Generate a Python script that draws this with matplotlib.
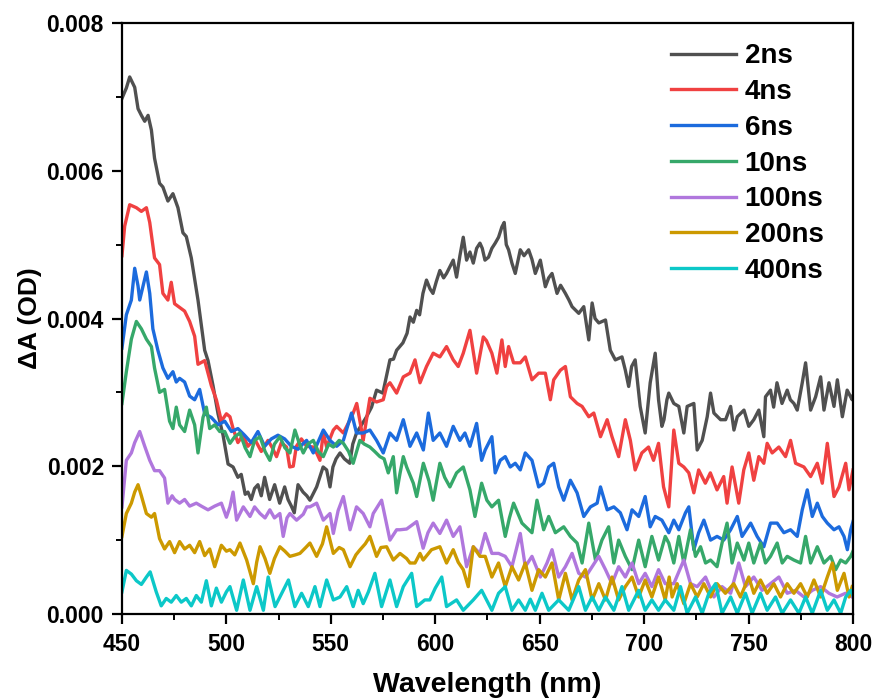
import matplotlib.pyplot as plt

plt.rcParams['font.family'] = ['Liberation Sans', 'DejaVu Sans']
plt.rcParams['font.weight'] = 'bold'

# transient absorption spectra, dA in mOD (x1e-3 OD)
wl_2ns = [450.0, 452.1, 453.7, 456.1, 457.7, 459.3, 460.9, 462.5, 464.1, 465.6, 468.0, 469.6, 472.0, 474.4,
          476.8, 479.2, 480.8, 483.2, 486.4, 489.6, 491.2, 493.6, 496.0, 498.4, 500.8, 503.2, 505.5, 507.1,
          509.0, 510.3, 511.9, 513.5, 515.1, 516.7, 518.3, 520.7, 523.1, 525.5, 527.9, 529.5, 531.1, 532.5,
          534.3, 536.7, 538.5, 540.0, 543.2, 546.3, 548.0, 549.6, 551.0, 552.5, 554.4, 556.5, 559.1, 560.5,
          562.3, 564.5, 567.1, 569.5, 571.9, 574.9, 576.5, 578.3, 580.0, 581.5, 584.5, 586.5, 587.9, 589.5,
          591.1, 592.5, 594.1, 595.8, 597.5, 598.9, 600.5, 602.2, 604.0, 605.4, 607.0, 608.6, 610.2, 611.8,
          613.4, 615.0, 616.6, 618.2, 619.8, 621.4, 622.5, 623.8, 625.5, 627.1, 628.7, 630.3, 631.9, 633.0,
          634.0, 635.1, 636.7, 638.3, 640.7, 642.5, 644.7, 646.3, 647.9, 650.3, 652.7, 654.3, 655.9, 658.3,
          660.0, 662.3, 664.0, 665.5, 668.7, 671.1, 673.5, 675.1, 676.5, 678.3, 681.5, 683.8, 686.2, 689.4,
          691.0, 692.6, 694.0, 695.7, 698.1, 700.5, 702.9, 705.3, 706.9, 708.5, 709.5, 710.9, 711.8, 714.2,
          716.6, 719.0, 720.6, 723.8, 725.4, 727.8, 730.2, 731.8, 733.4, 736.6, 739.0, 741.4, 743.0, 744.6,
          747.8, 750.1, 752.5, 754.9, 757.3, 758.1, 760.5, 762.0, 763.6, 766.0, 768.5, 770.0, 771.7, 773.3,
          775.7, 777.3, 779.7, 782.1, 784.5, 786.1, 788.5, 790.9, 792.5, 794.9, 797.2, 799.6, 800.0]
od_2ns = [6.98, 7.12, 7.27, 7.13, 6.84, 6.75, 6.67, 6.75, 6.55, 6.17, 5.83, 5.78, 5.59, 5.69,
          5.50, 5.16, 5.11, 4.82, 4.25, 3.57, 3.43, 3.09, 2.71, 2.42, 2.03, 1.99, 1.85, 1.89,
          1.62, 1.65, 1.55, 1.70, 1.75, 1.60, 1.85, 1.55, 1.75, 1.50, 1.72, 1.55, 1.46, 1.37,
          1.75, 1.65, 1.60, 1.54, 1.72, 1.99, 1.95, 1.72, 1.99, 2.10, 2.18, 2.10, 2.04, 2.30,
          2.45, 2.55, 2.67, 2.80, 3.03, 2.99, 3.20, 3.44, 3.45, 3.57, 3.67, 3.80, 4.02, 3.95,
          4.11, 4.05, 4.34, 4.52, 4.40, 4.34, 4.50, 4.65, 4.55, 4.61, 4.70, 4.79, 4.56, 4.85,
          5.10, 4.79, 4.90, 4.75, 4.95, 5.02, 4.95, 4.79, 4.83, 4.95, 5.02, 5.10, 5.24, 5.30,
          5.00, 4.93, 4.75, 4.61, 4.93, 4.85, 4.93, 4.80, 4.61, 4.79, 4.43, 4.55, 4.61, 4.34,
          4.45, 4.34, 4.25, 4.16, 4.07, 4.16, 3.71, 4.21, 4.00, 3.94, 3.98, 3.57, 3.44, 3.48,
          3.30, 3.08, 3.35, 3.44, 2.81, 2.45, 3.13, 3.53, 2.90, 2.54, 2.63, 2.90, 2.99, 2.85,
          2.81, 2.45, 2.81, 2.85, 2.22, 2.35, 2.67, 2.99, 2.72, 2.63, 2.63, 2.81, 2.49, 2.67,
          2.76, 2.54, 2.63, 2.76, 2.40, 2.94, 3.03, 2.80, 3.13, 2.85, 3.03, 2.90, 2.85, 2.76,
          3.13, 3.40, 2.76, 2.94, 3.21, 2.76, 3.13, 2.81, 3.17, 2.67, 3.03, 2.90, 2.95]

wl_4ns = [450.0, 451.3, 453.7, 456.9, 459.3, 461.7, 463.3, 465.6, 468.0, 469.6, 472.0, 473.6, 475.2, 477.6,
          480.0, 482.4, 484.8, 486.4, 489.6, 492.8, 495.2, 497.6, 500.0, 501.7, 503.2, 505.5, 507.9, 510.3,
          513.5, 516.7, 519.9, 522.0, 524.0, 526.3, 528.8, 530.3, 532.0, 533.5, 535.9, 538.4, 541.6, 543.2,
          544.8, 546.4, 548.0, 551.2, 552.8, 556.0, 559.2, 560.7, 562.4, 564.7, 565.5, 568.7, 571.9, 575.1,
          576.7, 578.3, 581.5, 584.7, 587.9, 590.3, 592.7, 595.8, 599.0, 602.2, 605.4, 608.6, 611.0, 613.4,
          616.6, 619.8, 623.0, 624.5, 627.1, 629.5, 631.9, 633.5, 635.1, 637.5, 640.7, 643.1, 646.3, 649.5,
          652.7, 655.1, 656.7, 659.9, 662.3, 664.7, 667.9, 670.3, 673.5, 675.9, 679.1, 682.3, 684.6, 687.8,
          691.0, 693.4, 695.7, 698.9, 702.1, 704.5, 706.9, 709.3, 711.8, 714.2, 716.6, 719.0, 721.4, 723.8,
          726.1, 729.3, 731.7, 734.9, 738.1, 739.7, 742.1, 745.3, 747.7, 750.1, 752.5, 754.9, 757.3, 758.9,
          761.3, 764.5, 767.7, 770.1, 772.5, 776.5, 779.7, 782.9, 785.3, 787.7, 790.9, 793.3, 796.5, 798.1,
          800.0]
od_4ns = [4.85, 5.25, 5.54, 5.50, 5.45, 5.50, 5.30, 4.82, 4.73, 4.34, 4.25, 4.49, 4.20, 4.15,
          4.10, 3.96, 3.76, 3.38, 3.43, 3.09, 2.90, 2.61, 2.71, 2.67, 2.51, 2.32, 2.42, 2.27,
          2.37, 2.20, 2.35, 2.25, 2.13, 2.32, 2.26, 1.99, 2.00, 2.27, 2.37, 2.27, 2.26, 2.18,
          2.08, 2.45, 2.26, 2.49, 2.54, 2.45, 2.63, 2.72, 2.85, 2.49, 2.35, 2.92, 2.87, 2.90,
          3.08, 3.13, 2.99, 3.21, 3.26, 3.44, 3.13, 3.35, 3.53, 3.48, 3.62, 3.44, 3.35, 3.53,
          3.84, 3.26, 3.75, 3.70, 3.53, 3.26, 3.71, 3.35, 3.62, 3.40, 3.40, 3.48, 3.17, 3.26,
          3.26, 2.90, 3.17, 3.30, 3.35, 2.94, 2.85, 2.81, 2.67, 2.72, 2.40, 2.63, 2.40, 2.13,
          2.63, 2.35, 1.95, 2.18, 2.26, 2.08, 2.31, 1.72, 1.45, 2.49, 2.04, 1.99, 1.91, 1.64,
          1.95, 1.77, 1.91, 1.68, 1.86, 1.50, 1.99, 1.50, 1.95, 2.18, 1.81, 2.13, 2.04, 2.31,
          2.18, 2.26, 2.13, 2.35, 2.04, 1.99, 1.86, 2.04, 1.77, 2.31, 1.59, 1.72, 2.04, 1.68,
          1.95]

wl_6ns = [450.0, 452.1, 454.5, 456.1, 457.7, 458.5, 460.1, 461.7, 463.3, 464.8, 467.2, 469.6, 472.0, 474.4,
          476.0, 477.6, 480.0, 482.4, 484.8, 487.2, 489.6, 492.8, 496.0, 499.2, 502.4, 505.5, 508.7, 511.9,
          515.1, 518.3, 521.5, 524.7, 527.9, 531.1, 534.3, 536.5, 538.4, 541.6, 546.4, 549.6, 552.8, 556.0,
          559.9, 562.3, 565.5, 568.7, 571.9, 575.1, 578.3, 581.5, 584.7, 587.9, 591.1, 594.3, 596.7, 599.0,
          602.2, 605.4, 608.6, 611.8, 614.2, 616.6, 619.8, 622.2, 623.9, 627.1, 628.7, 631.1, 633.5, 635.9,
          638.3, 640.7, 643.1, 646.3, 649.5, 651.9, 654.3, 656.7, 659.1, 661.5, 664.7, 667.9, 671.1, 674.3,
          677.5, 679.1, 682.3, 685.5, 688.6, 691.8, 694.2, 697.4, 700.5, 702.9, 705.3, 708.5, 711.8, 714.2,
          716.6, 719.8, 721.4, 723.8, 726.1, 728.6, 731.8, 734.9, 738.1, 741.4, 744.6, 746.9, 751.0, 754.1,
          757.3, 760.5, 763.7, 766.9, 770.1, 773.3, 775.7, 778.1, 780.5, 782.9, 785.3, 787.7, 790.9, 793.3,
          795.7, 797.3, 798.9, 800.0]
od_6ns = [3.60, 4.05, 4.25, 4.68, 4.44, 4.25, 4.44, 4.63, 4.34, 3.86, 3.57, 3.33, 3.19, 3.28,
          3.14, 3.19, 3.14, 2.95, 2.90, 3.04, 2.71, 2.66, 2.56, 2.61, 2.47, 2.51, 2.42, 2.32,
          2.47, 2.27, 2.37, 2.42, 2.37, 2.27, 2.23, 2.30, 2.35, 2.18, 2.49, 2.35, 2.27, 2.35,
          2.72, 2.45, 2.45, 2.49, 2.35, 2.18, 2.45, 2.35, 2.63, 2.27, 2.45, 2.22, 2.72, 2.35,
          2.45, 2.27, 2.54, 2.35, 2.45, 2.27, 2.58, 2.08, 2.22, 2.40, 1.91, 2.08, 2.13, 1.99,
          2.04, 1.95, 2.18, 2.08, 1.72, 1.77, 1.99, 2.04, 1.72, 1.54, 1.81, 1.64, 1.32, 1.45,
          1.50, 1.72, 1.41, 1.45, 1.37, 1.14, 1.41, 1.32, 1.59, 1.18, 1.32, 1.27, 1.10, 1.27,
          1.14, 1.37, 1.45, 0.87, 1.10, 1.27, 1.00, 1.05, 1.00, 1.14, 1.32, 1.05, 1.23, 1.05,
          0.91, 1.23, 1.23, 1.10, 1.14, 1.05, 1.41, 1.68, 1.32, 1.50, 1.32, 1.23, 1.14, 1.18,
          1.05, 0.87, 1.14, 1.25]

wl_10ns = [450.0, 452.1, 454.5, 456.9, 459.3, 461.7, 464.1, 465.6, 468.0, 470.4, 472.8, 474.4, 476.0, 477.6,
           480.0, 482.4, 484.8, 486.4, 488.8, 490.4, 492.0, 494.4, 496.8, 499.2, 501.7, 504.0, 506.5, 509.0,
           511.3, 513.5, 516.1, 518.5, 520.8, 523.0, 525.6, 528.0, 530.4, 532.8, 535.0, 536.8, 539.0, 541.6,
           544.0, 546.4, 549.0, 551.2, 554.0, 556.0, 558.5, 560.7, 563.9, 566.0, 568.7, 571.0, 573.5, 575.5,
           577.5, 579.9, 581.5, 583.1, 584.7, 586.3, 589.5, 591.1, 594.3, 597.0, 599.0, 602.2, 604.5, 607.0,
           610.2, 613.4, 616.6, 619.0, 622.2, 624.7, 627.1, 630.3, 633.5, 635.5, 637.5, 641.5, 646.3, 648.7,
           651.9, 654.3, 657.5, 661.5, 664.7, 667.9, 670.3, 673.5, 676.7, 679.8, 683.0, 685.5, 687.8, 691.0,
           694.2, 697.4, 700.5, 703.7, 706.9, 710.1, 711.8, 714.2, 716.6, 719.0, 722.2, 724.6, 727.0, 729.4,
           731.8, 734.9, 737.3, 739.7, 742.1, 744.6, 747.8, 750.1, 752.5, 755.7, 758.1, 760.5, 763.7, 766.1,
           768.5, 771.7, 774.9, 777.3, 779.7, 782.9, 786.1, 789.3, 791.7, 794.1, 796.5, 798.9, 800.0]
od_10ns = [2.85, 3.28, 3.72, 3.96, 3.86, 3.72, 3.62, 3.33, 3.00, 3.04, 2.61, 2.51, 2.80, 2.56,
           2.47, 2.76, 2.56, 2.18, 2.66, 2.80, 2.51, 2.56, 2.47, 2.47, 2.31, 2.40, 2.45, 2.25,
           2.13, 2.35, 2.40, 2.20, 2.08, 2.30, 2.40, 2.25, 2.18, 2.49, 2.30, 2.18, 2.30, 2.35,
           2.20, 2.13, 2.30, 2.26, 2.35, 2.31, 2.20, 2.04, 2.35, 2.30, 2.26, 2.20, 2.13, 2.10,
           1.91, 2.13, 1.64, 1.90, 2.13, 1.99, 1.77, 1.59, 2.04, 1.80, 1.54, 2.04, 1.85, 1.72,
           1.91, 1.99, 1.68, 1.32, 1.77, 1.54, 1.45, 1.54, 1.05, 1.30, 1.50, 1.23, 1.10, 1.54,
           1.14, 1.32, 1.10, 1.18, 1.05, 0.96, 0.69, 1.23, 0.73, 1.00, 1.18, 0.69, 1.00, 0.78,
           0.60, 1.00, 0.64, 1.05, 0.73, 1.05, 0.96, 0.69, 1.05, 0.69, 1.14, 0.78, 0.91, 0.69,
           0.73, 0.64, 0.96, 1.23, 0.69, 0.96, 0.73, 0.96, 0.69, 0.96, 0.69, 0.78, 0.96, 0.69,
           0.78, 0.73, 0.69, 1.05, 0.69, 0.91, 0.69, 0.78, 0.60, 0.73, 0.69, 0.78, 0.85]

wl_100ns = [450.0, 452.1, 454.5, 456.1, 458.5, 460.9, 463.3, 465.6, 468.0, 470.4, 472.0, 474.0, 475.2, 477.6,
            480.0, 482.4, 485.6, 488.0, 491.2, 494.4, 497.6, 500.0, 501.7, 503.2, 504.9, 508.1, 511.3, 513.5,
            516.1, 518.5, 520.8, 523.0, 525.6, 527.2, 529.0, 530.4, 533.6, 536.8, 538.5, 540.0, 543.2, 546.4,
            549.6, 551.2, 553.5, 556.0, 559.2, 562.3, 565.5, 567.1, 568.7, 570.3, 574.3, 578.3, 581.5, 583.1,
            586.3, 591.1, 594.2, 596.5, 599.0, 602.2, 605.4, 608.6, 611.8, 615.0, 618.2, 621.4, 623.9, 627.1,
            630.3, 633.5, 636.7, 640.7, 643.1, 646.3, 650.3, 653.5, 655.9, 659.1, 662.3, 665.5, 668.7, 671.9,
            675.1, 678.3, 681.5, 684.6, 687.8, 691.0, 694.2, 697.4, 700.5, 703.7, 706.9, 710.1, 714.2, 719.0,
            722.2, 725.4, 729.4, 733.4, 737.3, 741.4, 745.3, 748.5, 752.5, 756.5, 760.5, 764.5, 768.5, 772.5,
            776.5, 780.5, 784.5, 788.5, 792.4, 796.4, 799.6]
od_100ns = [1.45, 2.08, 2.18, 2.32, 2.47, 2.27, 2.08, 1.94, 1.94, 1.84, 1.50, 1.60, 1.55, 1.50,
            1.55, 1.46, 1.50, 1.46, 1.41, 1.46, 1.50, 1.31, 1.45, 1.65, 1.27, 1.45, 1.32, 1.45,
            1.36, 1.30, 1.41, 1.30, 1.36, 1.05, 1.30, 1.36, 1.27, 1.35, 1.45, 1.45, 1.50, 1.27,
            1.36, 1.09, 1.40, 1.59, 1.14, 1.45, 1.36, 1.27, 1.18, 1.36, 1.54, 1.00, 1.14, 1.14,
            1.15, 1.25, 0.89, 1.10, 1.23, 1.09, 1.27, 1.05, 1.18, 0.64, 0.91, 0.82, 1.09, 0.82,
            0.82, 0.78, 0.64, 1.09, 0.64, 0.78, 0.50, 0.69, 0.87, 0.50, 0.64, 0.82, 0.55, 0.50,
            0.64, 0.78, 0.60, 0.41, 0.64, 0.50, 0.69, 0.41, 0.55, 0.37, 0.60, 0.41, 0.41, 0.73,
            0.41, 0.37, 0.50, 0.23, 0.37, 0.28, 0.69, 0.37, 0.50, 0.32, 0.41, 0.50, 0.28, 0.32,
            0.23, 0.32, 0.37, 0.28, 0.23, 0.28, 0.23]

wl_200ns = [450.0, 452.1, 454.5, 456.1, 457.7, 459.3, 461.7, 464.1, 465.6, 468.0, 470.4, 472.8, 475.2, 477.6,
            480.0, 482.4, 484.8, 487.2, 489.6, 492.0, 494.4, 497.6, 500.0, 501.7, 504.0, 506.5, 509.7, 512.9,
            514.5, 516.1, 518.5, 520.8, 523.0, 525.6, 528.0, 530.4, 533.0, 535.2, 538.0, 540.0, 543.2, 546.0,
            548.0, 551.2, 554.0, 556.0, 559.2, 562.0, 564.0, 566.5, 568.7, 571.9, 574.0, 576.7, 579.9, 583.1,
            586.3, 587.9, 590.3, 592.7, 594.2, 598.2, 602.2, 605.4, 608.6, 611.0, 613.4, 615.8, 618.2, 621.4,
            623.9, 627.1, 630.3, 633.5, 636.7, 639.9, 643.1, 646.3, 649.5, 652.7, 655.9, 659.1, 662.3, 665.5,
            668.7, 671.9, 675.1, 678.3, 681.5, 684.6, 687.8, 691.0, 694.2, 697.4, 700.5, 703.7, 706.9, 710.1,
            712.0, 713.4, 715.8, 719.0, 722.2, 725.4, 728.6, 731.8, 734.9, 738.9, 742.9, 746.1, 750.1, 752.5,
            755.7, 758.9, 762.1, 765.3, 768.5, 771.7, 774.9, 778.1, 781.3, 784.5, 787.7, 790.1, 792.5, 795.7,
            798.1, 799.6]
od_200ns = [1.05, 1.36, 1.50, 1.65, 1.75, 1.60, 1.36, 1.31, 1.36, 1.02, 0.88, 0.98, 0.83, 0.98,
            0.88, 0.93, 0.83, 0.98, 0.79, 0.88, 0.64, 0.93, 0.85, 0.87, 0.80, 0.96, 0.73, 0.41,
            0.70, 0.91, 0.75, 0.55, 0.75, 0.91, 0.85, 0.78, 0.80, 0.82, 0.90, 0.96, 0.78, 0.95,
            1.18, 0.82, 0.90, 0.87, 0.64, 0.80, 0.87, 0.95, 1.05, 0.78, 0.90, 0.91, 0.73, 0.82,
            0.75, 0.69, 0.69, 0.82, 0.73, 0.87, 0.91, 0.69, 0.87, 0.70, 0.60, 0.37, 0.91, 0.78,
            0.78, 0.50, 0.69, 0.37, 0.64, 0.46, 0.69, 0.32, 0.60, 0.50, 0.69, 0.19, 0.55, 0.19,
            0.46, 0.60, 0.19, 0.41, 0.19, 0.50, 0.19, 0.37, 0.50, 0.23, 0.46, 0.23, 0.50, 0.19,
            0.50, 0.23, 0.41, 0.14, 0.41, 0.23, 0.41, 0.23, 0.41, 0.28, 0.41, 0.23, 0.50, 0.28,
            0.46, 0.28, 0.41, 0.23, 0.41, 0.28, 0.41, 0.23, 0.46, 0.23, 0.50, 0.69, 0.32, 0.55,
            0.23, 0.37]

wl_400ns = [450.0, 452.1, 454.5, 456.9, 459.3, 461.7, 463.5, 466.4, 468.8, 471.2, 473.6, 476.0, 478.4, 480.8,
            483.2, 485.6, 488.0, 490.4, 492.8, 495.2, 497.6, 500.0, 501.7, 504.9, 508.1, 511.3, 514.5, 517.7,
            520.0, 523.3, 526.5, 529.7, 532.8, 536.0, 539.2, 542.4, 544.8, 548.0, 551.2, 554.4, 557.6, 560.7,
            563.1, 565.5, 568.0, 571.1, 574.3, 578.3, 581.5, 584.7, 588.7, 591.1, 595.0, 597.4, 600.0, 603.1,
            605.4, 610.2, 613.4, 618.2, 622.2, 627.1, 630.3, 633.5, 636.7, 639.9, 643.1, 645.5, 647.9, 651.1,
            654.3, 659.1, 663.9, 668.7, 671.9, 675.1, 678.3, 681.5, 685.5, 689.4, 692.6, 697.4, 700.5, 703.7,
            706.9, 710.1, 714.2, 717.4, 720.6, 724.6, 727.8, 731.0, 734.2, 737.3, 741.4, 744.6, 748.5, 751.7,
            755.7, 758.9, 762.9, 766.1, 770.1, 774.1, 777.3, 780.5, 784.5, 787.7, 790.9, 794.1, 796.5, 798.9,
            800.0]
od_400ns = [0.30, 0.59, 0.54, 0.45, 0.40, 0.50, 0.57, 0.30, 0.11, 0.21, 0.16, 0.25, 0.16, 0.21,
            0.11, 0.25, 0.16, 0.45, 0.11, 0.35, 0.16, 0.30, 0.37, 0.05, 0.46, 0.05, 0.37, 0.05,
            0.50, 0.10, 0.28, 0.46, 0.10, 0.28, 0.10, 0.37, 0.10, 0.46, 0.19, 0.23, 0.37, 0.10,
            0.32, 0.14, 0.30, 0.55, 0.10, 0.46, 0.10, 0.37, 0.55, 0.10, 0.19, 0.19, 0.35, 0.50,
            0.10, 0.19, 0.05, 0.19, 0.32, 0.05, 0.28, 0.37, 0.05, 0.19, 0.05, 0.20, 0.05, 0.28,
            0.05, 0.19, 0.05, 0.37, 0.05, 0.23, 0.05, 0.23, 0.05, 0.37, 0.05, 0.32, 0.05, 0.19,
            0.05, 0.19, 0.05, 0.37, 0.01, 0.23, 0.01, 0.28, 0.41, 0.01, 0.23, 0.01, 0.28, 0.01,
            0.28, 0.05, 0.23, 0.01, 0.19, 0.01, 0.23, 0.01, 0.32, 0.05, 0.19, 0.01, 0.23, 0.32,
            0.25]

series = [
    (wl_2ns, od_2ns, '2ns', '#505050'),
    (wl_4ns, od_4ns, '4ns', '#F04141'),
    (wl_6ns, od_6ns, '6ns', '#1C6BDD'),
    (wl_10ns, od_10ns, '10ns', '#36A86A'),
    (wl_100ns, od_100ns, '100ns', '#B077DD'),
    (wl_200ns, od_200ns, '200ns', '#CC9900'),
    (wl_400ns, od_400ns, '400ns', '#0CC8C8'),
]

fig = plt.figure(figsize=(8.73, 7.0), dpi=100)
ax = fig.add_axes([0.1397, 0.1229, 0.8374, 0.8442])

for wl, od, lab, col in series:
    ax.plot(wl, [v * 1e-3 for v in od], color=col, lw=2.4, label=lab)

ax.set_xlim(450, 800)
ax.set_ylim(0, 0.008)
ax.set_xticks([450, 500, 550, 600, 650, 700, 750, 800])
ax.set_xticks([475, 525, 575, 625, 675, 725, 775], minor=True)
ax.set_yticks([0.000, 0.002, 0.004, 0.006, 0.008])
ax.set_yticks([0.001, 0.003, 0.005, 0.007], minor=True)
ax.set_yticklabels(['0.000', '0.002', '0.004', '0.006', '0.008'])

ax.tick_params(which='major', direction='out', length=7, width=1.6, labelsize=16.5)
ax.tick_params(axis='x', which='major', pad=7)
ax.tick_params(axis='y', which='major', pad=6)
ax.tick_params(which='minor', direction='out', length=4, width=1.4)
ax.tick_params(top=False, right=False, which='both')
for sp in ax.spines.values():
    sp.set_linewidth(1.6)

ax.set_xlabel('Wavelength (nm)', fontsize=20.5, fontweight='bold', labelpad=11)
ax.set_ylabel('ΔA (OD)', fontsize=19, fontweight='bold', labelpad=3)

leg = ax.legend(loc='upper right', frameon=False, prop={'size': 20, 'weight': 'bold'},
                handlelength=2.35, handletextpad=0.3, labelspacing=0.35,
                borderaxespad=0.4, bbox_to_anchor=(0.99, 1.003))

fig.savefig('out.png', dpi=100)
